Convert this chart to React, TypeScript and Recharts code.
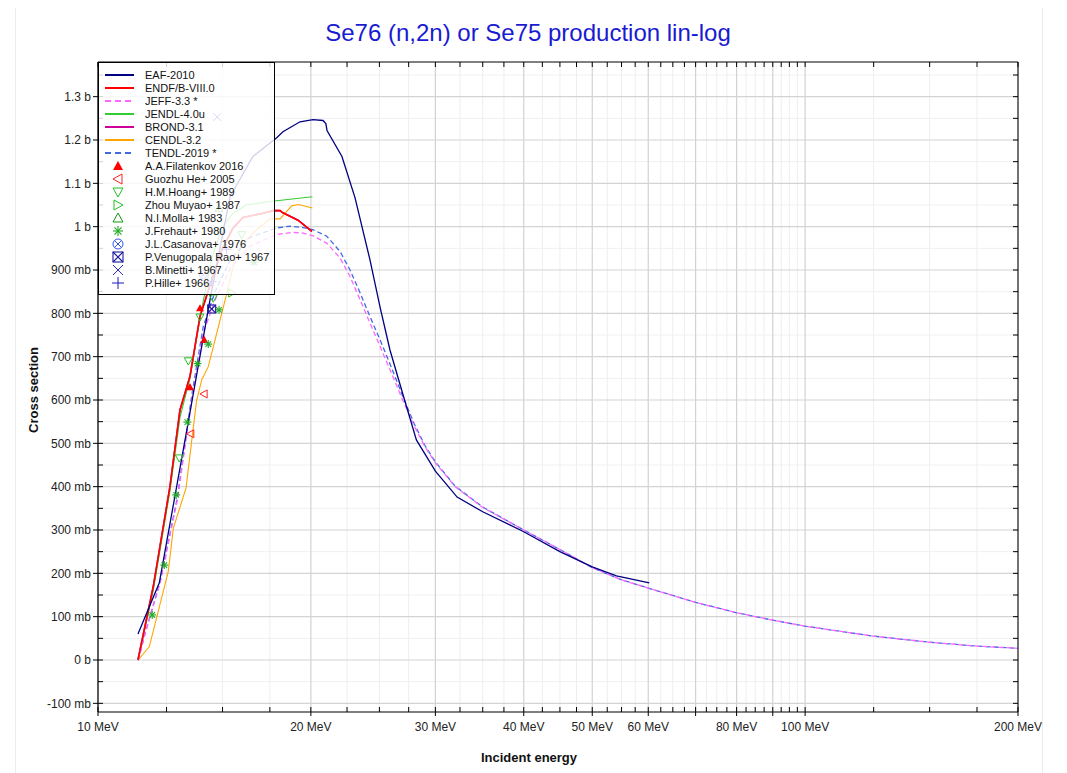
import React from 'react';
import { ComposedChart, Line, Scatter, XAxis, YAxis, ReferenceLine } from 'recharts';

// ---------- data ----------
const eafE = [11.39, 12.21, 13.42, 14.4, 15.37, 16.56, 17.91, 18.26, 19.31, 20.14, 20.81, 21.0, 21.08, 22.13, 23.09, 24.24, 25.05, 25.87, 27.0, 28.2, 30, 32.2, 35, 40, 45, 50, 54.1, 60.2];
const eafS = [0.06, 0.178, 0.55, 0.831, 1.069, 1.162, 1.206, 1.219, 1.242, 1.247, 1.245, 1.238, 1.222, 1.162, 1.067, 0.924, 0.815, 0.716, 0.612, 0.508, 0.436, 0.376, 0.342, 0.296, 0.25, 0.215, 0.194, 0.178];

const endfE = [11.39, 11.97, 12.64, 13.06, 13.49, 13.94, 14.5, 15.0, 15.5, 16.03, 17.0, 17.68, 18.09, 18.26, 19.18, 20.07];
const endfS = [0, 0.169, 0.4, 0.577, 0.654, 0.793, 0.88, 0.95, 0.995, 1.021, 1.03, 1.037, 1.037, 1.032, 1.015, 0.989];

const brondE = [11.39, 11.97, 12.64, 13.06, 13.49, 13.94, 14.5, 15.0, 15.5, 16.03, 17.0, 17.68, 18.09, 18.26, 19.18, 20.07];
const brondS = [0, 0.169, 0.4, 0.577, 0.654, 0.793, 0.88, 0.95, 0.995, 1.021, 1.03, 1.037, 1.037, 1.032, 1.015, 0.989];

const jendlE = [11.39, 11.97, 12.64, 13.06, 13.49, 13.94, 14.5, 15.0, 15.5, 16.2, 17.5, 20.1];
const jendlS = [0, 0.16, 0.39, 0.56, 0.65, 0.79, 0.93, 1.0, 1.03, 1.05, 1.058, 1.069];

const cendlE = [11.4, 11.82, 12.57, 12.78, 13.32, 13.61, 13.79, 14.02, 14.32, 14.64, 15.13, 15.54, 16.0, 16.76, 17.5, 18.09, 18.79, 19.2, 20.1];
const cendlS = [0, 0.031, 0.204, 0.304, 0.397, 0.524, 0.6, 0.647, 0.677, 0.739, 0.831, 0.91, 0.96, 0.993, 1.018, 1.018, 1.048, 1.051, 1.043];

const jeffE = [11.4, 11.65, 12.24, 12.95, 13.57, 14.09, 14.64, 15.4, 16.4, 17.89, 18.9, 19.5, 20.14, 21.06, 21.99, 22.72, 23.48, 24.24, 25.05, 26, 27, 28, 29, 30, 32, 35, 40, 45, 50, 55, 60, 70, 80, 90, 100, 125, 150, 175, 200];
const jeffS = [0, 0.06, 0.178, 0.37, 0.6, 0.755, 0.831, 0.905, 0.955, 0.982, 0.987, 0.985, 0.979, 0.962, 0.928, 0.885, 0.831, 0.778, 0.724, 0.662, 0.598, 0.54, 0.492, 0.455, 0.4, 0.352, 0.3, 0.255, 0.213, 0.185, 0.166, 0.133, 0.109, 0.092, 0.078, 0.055, 0.041, 0.032, 0.027];

const tendlE = [11.4, 11.65, 12.24, 12.95, 13.57, 14.09, 14.64, 15.4, 16.4, 17.89, 18.68, 19.5, 20.14, 21.06, 21.99, 22.72, 23.48, 24.24, 25.05, 26, 27, 28, 29, 30, 32, 35, 40, 45, 50, 55, 60, 70, 80, 90, 100, 125, 150, 175, 200];
const tendlS = [0, 0.06, 0.18, 0.375, 0.61, 0.77, 0.85, 0.925, 0.975, 0.997, 1.001, 0.998, 0.993, 0.978, 0.943, 0.9, 0.847, 0.793, 0.739, 0.675, 0.607, 0.545, 0.495, 0.457, 0.401, 0.353, 0.3, 0.255, 0.213, 0.185, 0.166, 0.133, 0.109, 0.092, 0.078, 0.055, 0.041, 0.032, 0.027];

const filatenkovE = [13.49, 13.94, 14.13];
const filatenkovS = [0.63, 0.812, 0.739];
const guozhuE = [14.12, 13.52];
const guozhuS = [0.614, 0.522];
const hoangE = [13.94, 13.42, 13.03, 14.55, 15.97];
const hoangS = [0.791, 0.69, 0.466, 0.835, 0.981];
const zhouE = [15.46];
const zhouS = [0.847];
const mollaE = [14.83];
const mollaS = [1.043];
const frehautE = [14.83, 14.32, 13.83, 13.38, 12.9, 12.41, 11.93, 16.62];
const frehautS = [0.808, 0.729, 0.684, 0.549, 0.381, 0.219, 0.104, 0.918];
const casanovaE = [14.09];
const casanovaS = [0.889];
const venugopalaE = [14.48];
const venugopalaS = [0.81];
const minettiE = [14.74];
const minettiS = [1.253];
const hilleE = [14.48, 15.2];
const hilleS = [0.873, 0.948];

// ---------- ticks ----------
const xMajor = [10, 20, 30, 40, 50, 60, 70, 80, 90, 100, 200];
const xLabeled = [10, 20, 30, 40, 50, 60, 80, 100, 200];
const xMinor = [12.5, 15, 17.5, 22.5, 25, 27.5, 32.5, 35, 37.5, 42.5, 45, 47.5, 52.5, 55, 57.5, 62.5, 65, 67.5, 72.5, 75, 77.5, 82.5, 85, 87.5, 92.5, 95, 97.5, 125, 150, 175];
const yMajor = [-0.1, 0, 0.1, 0.2, 0.3, 0.4, 0.5, 0.6, 0.7, 0.8, 0.9, 1, 1.1, 1.2, 1.3];
const yMinor = [-0.05, 0.05, 0.15, 0.25, 0.35, 0.45, 0.55, 0.65, 0.75, 0.85, 0.95, 1.05, 1.15, 1.25, 1.35];
const xAll = [...xMajor, ...xMinor].sort((a, b) => a - b);
const yAll = [...yMajor, ...yMinor].sort((a, b) => a - b);

const pts = (e: number[], s: number[]) => e.map((v, i) => ({ e: v, s: s[i] }));

const FONT = 'Arial, "Liberation Sans", sans-serif';

const fmtY = (v: number) => (v === 0 ? '0 b' : Math.abs(v) >= 1 ? `${v} b` : `${Math.round(v * 1000)} mb`);

// ---------- markers ----------
type Kind = 'triUpF' | 'triLeft' | 'triDown' | 'triRight' | 'triUp' | 'star' | 'circX' | 'boxX' | 'x' | 'plus';

const Marker = ({ kind, cx, cy, color, r = 4 }: { kind: Kind; cx: number; cy: number; color: string; r?: number }) => {
  const sw = 1;
  switch (kind) {
    case 'triUpF':
      return <polygon points={`${cx},${cy - r} ${cx - r},${cy + r * 0.8} ${cx + r},${cy + r * 0.8}`} fill={color} stroke="none" />;
    case 'triUp':
      return <polygon points={`${cx},${cy - r} ${cx - r},${cy + r * 0.8} ${cx + r},${cy + r * 0.8}`} fill="none" stroke={color} strokeWidth={sw} />;
    case 'triDown':
      return <polygon points={`${cx},${cy + r} ${cx - r},${cy - r * 0.8} ${cx + r},${cy - r * 0.8}`} fill="none" stroke={color} strokeWidth={sw} />;
    case 'triLeft':
      return <polygon points={`${cx - r},${cy} ${cx + r * 0.8},${cy - r} ${cx + r * 0.8},${cy + r}`} fill="none" stroke={color} strokeWidth={sw} />;
    case 'triRight':
      return <polygon points={`${cx + r},${cy} ${cx - r * 0.8},${cy - r} ${cx - r * 0.8},${cy + r}`} fill="none" stroke={color} strokeWidth={sw} />;
    case 'star': {
      const d = r * 0.707;
      return (
        <g stroke={color} strokeWidth={1.1}>
          <line x1={cx - r} y1={cy} x2={cx + r} y2={cy} />
          <line x1={cx} y1={cy - r} x2={cx} y2={cy + r} />
          <line x1={cx - d} y1={cy - d} x2={cx + d} y2={cy + d} />
          <line x1={cx - d} y1={cy + d} x2={cx + d} y2={cy - d} />
        </g>
      );
    }
    case 'circX': {
      const d = r * 0.707;
      return (
        <g stroke={color} strokeWidth={sw} fill="none">
          <circle cx={cx} cy={cy} r={r} />
          <line x1={cx - d} y1={cy - d} x2={cx + d} y2={cy + d} />
          <line x1={cx - d} y1={cy + d} x2={cx + d} y2={cy - d} />
        </g>
      );
    }
    case 'boxX':
      return (
        <g stroke={color} strokeWidth={1.1} fill="none">
          <rect x={cx - r} y={cy - r} width={2 * r} height={2 * r} />
          <line x1={cx - r} y1={cy - r} x2={cx + r} y2={cy + r} />
          <line x1={cx - r} y1={cy + r} x2={cx + r} y2={cy - r} />
        </g>
      );
    case 'x':
      return (
        <g stroke={color} strokeWidth={sw}>
          <line x1={cx - r} y1={cy - r} x2={cx + r} y2={cy + r} />
          <line x1={cx - r} y1={cy + r} x2={cx + r} y2={cy - r} />
        </g>
      );
    case 'plus':
    default:
      return (
        <g stroke={color} strokeWidth={sw}>
          <line x1={cx - r - 1} y1={cy} x2={cx + r + 1} y2={cy} />
          <line x1={cx} y1={cy - r - 1} x2={cx} y2={cy + r + 1} />
        </g>
      );
  }
};

// ---------- series definitions ----------
const lineSeries = [
  { name: 'EAF-2010', color: '#000080', dash: '' },
  { name: 'ENDF/B-VIII.0', color: '#ff0000', dash: '' },
  { name: 'JEFF-3.3 *', color: '#ff66ff', dash: '5 3' },
  { name: 'JENDL-4.0u', color: '#33cc33', dash: '' },
  { name: 'BROND-3.1', color: '#cc0099', dash: '' },
  { name: 'CENDL-3.2', color: '#ffa500', dash: '' },
  { name: 'TENDL-2019 *', color: '#4169e1', dash: '5 3' },
];

const pointSeries: { name: string; kind: Kind; color: string; e: number[]; s: number[] }[] = [
  { name: 'A.A.Filatenkov 2016', kind: 'triUpF', color: '#ff0000', e: filatenkovE, s: filatenkovS },
  { name: 'Guozhu He+ 2005', kind: 'triLeft', color: '#ff2020', e: guozhuE, s: guozhuS },
  { name: 'H.M.Hoang+ 1989', kind: 'triDown', color: '#22c022', e: hoangE, s: hoangS },
  { name: 'Zhou Muyao+ 1987', kind: 'triRight', color: '#22c022', e: zhouE, s: zhouS },
  { name: 'N.I.Molla+ 1983', kind: 'triUp', color: '#119911', e: mollaE, s: mollaS },
  { name: 'J.Frehaut+ 1980', kind: 'star', color: '#22aa22', e: frehautE, s: frehautS },
  { name: 'J.L.Casanova+ 1976', kind: 'circX', color: '#3355ee', e: casanovaE, s: casanovaS },
  { name: 'P.Venugopala Rao+ 1967', kind: 'boxX', color: '#1a1aa0', e: venugopalaE, s: venugopalaS },
  { name: 'B.Minetti+ 1967', kind: 'x', color: '#2a2ad0', e: minettiE, s: minettiS },
  { name: 'P.Hille+ 1966', kind: 'plus', color: '#1a1ac0', e: hilleE, s: hilleS },
];

// ---------- ticks ----------
const BottomTick = (props: any) => {
  const { x, y, payload } = props;
  const v = payload.value;
  const major = xMajor.includes(v);
  const lab = xLabeled.includes(v);
  return (
    <g>
      <line x1={x} x2={x} y1={major ? y + 4 : y} y2={y - 5} stroke="#000" strokeWidth={1} />
      {lab && (
        <text x={x} y={y + 19} textAnchor="middle" fontSize={12} fontFamily={FONT} fill="#222">
          {`${v} MeV`}
        </text>
      )}
    </g>
  );
};

const TopTick = (props: any) => {
  const { x, y } = props;
  return <line x1={x} x2={x} y1={y} y2={y + 5} stroke="#000" strokeWidth={1} />;
};

const LeftTick = (props: any) => {
  const { x, y, payload } = props;
  const v = payload.value;
  const major = yMajor.includes(v);
  return (
    <g>
      <line x1={major ? x - 5 : x} x2={x + 5} y1={y} y2={y} stroke="#000" strokeWidth={1} />
      {major && (
        <text x={x - 7} y={y} dy="0.35em" textAnchor="end" fontSize={12} fontFamily={FONT} fill="#222">
          {fmtY(v)}
        </text>
      )}
    </g>
  );
};

const RightTick = (props: any) => {
  const { x, y } = props;
  return <line x1={x - 5} x2={x} y1={y} y2={y} stroke="#000" strokeWidth={1} />;
};

const eafData = pts(eafE, eafS);
const endfData = pts(endfE, endfS);
const brondData = pts(brondE, brondS);
const jendlData = pts(jendlE, jendlS);
const cendlData = pts(cendlE, cendlS);
const jeffData = pts(jeffE, jeffS);
const tendlData = pts(tendlE, tendlS);

export default function App() {
  const W = 1067;
  const H = 773;
  return (
    <div style={{ position: 'relative', width: W, height: H, marginTop: -8, marginLeft: -8, background: '#fff' }}>
      <ComposedChart width={W} height={H} margin={{ top: 52, right: 39, bottom: 21, left: 0 }}>
        <XAxis
          xAxisId={0}
          dataKey="e"
          type="number"
          scale="log"
          domain={[10, 200]}
          allowDataOverflow
          ticks={xAll}
          interval={0}
          tick={<BottomTick />}
          tickLine={false}
          tickSize={0}
          tickMargin={0}
          height={40}
          axisLine={{ stroke: '#000', strokeWidth: 1.2 }}
        />
        <XAxis
          xAxisId="top"
          orientation="top"
          dataKey="e"
          type="number"
          scale="log"
          domain={[10, 200]}
          allowDataOverflow
          ticks={xAll}
          interval={0}
          tick={<TopTick />}
          tickLine={false}
          tickSize={0}
          tickMargin={0}
          height={10}
          axisLine={{ stroke: '#000', strokeWidth: 1 }}
        />
        <YAxis
          yAxisId={0}
          dataKey="s"
          type="number"
          domain={[-0.12, 1.38]}
          allowDataOverflow
          ticks={yAll}
          interval={0}
          tick={<LeftTick />}
          tickLine={false}
          tickSize={0}
          tickMargin={0}
          width={98}
          axisLine={{ stroke: '#000', strokeWidth: 1.2 }}
        />
        <YAxis
          yAxisId="right"
          orientation="right"
          type="number"
          domain={[-0.12, 1.38]}
          allowDataOverflow
          ticks={yAll}
          interval={0}
          tick={<RightTick />}
          tickLine={false}
          tickSize={0}
          tickMargin={0}
          width={10}
          axisLine={{ stroke: '#000', strokeWidth: 1 }}
        />

        {xMinor.map((v) => (
          <ReferenceLine key={`xm${v}`} x={v} stroke="#eeeeee" strokeWidth={1} />
        ))}
        {yMinor.map((v) => (
          <ReferenceLine key={`ym${v}`} y={v} stroke="#f0f0f0" strokeWidth={1} />
        ))}
        {xMajor.map((v) => (
          <ReferenceLine key={`xM${v}`} x={v} stroke="#d2d2d2" strokeWidth={1.2} />
        ))}
        {yMajor.map((v) => (
          <ReferenceLine key={`yM${v}`} y={v} stroke="#d4d4d4" strokeWidth={1.2} />
        ))}

        <Line data={brondData} dataKey="s" type="linear" stroke="#cc0099" strokeWidth={1.6} dot={false} isAnimationActive={false} />
        <Line data={cendlData} dataKey="s" type="linear" stroke="#ffa500" strokeWidth={1.1} dot={false} isAnimationActive={false} />
        <Line data={jendlData} dataKey="s" type="linear" stroke="#33cc33" strokeWidth={1.1} dot={false} isAnimationActive={false} />
        <Line data={tendlData} dataKey="s" type="linear" stroke="#4169e1" strokeWidth={1.3} strokeDasharray="5 3" dot={false} isAnimationActive={false} />
        <Line data={jeffData} dataKey="s" type="linear" stroke="#ff66ff" strokeWidth={1.3} strokeDasharray="5 3" dot={false} isAnimationActive={false} />
        <Line data={endfData} dataKey="s" type="linear" stroke="#ff0000" strokeWidth={1.6} dot={false} isAnimationActive={false} />
        <Line data={eafData} dataKey="s" type="linear" stroke="#000080" strokeWidth={1.3} dot={false} isAnimationActive={false} />

        {pointSeries.map((p) => (
          <Scatter
            key={p.name}
            data={pts(p.e, p.s)}
            dataKey="s"
            isAnimationActive={false}
            shape={(sp: any) => <Marker kind={p.kind} cx={sp.cx} cy={sp.cy} color={p.color} />}
          />
        ))}
      </ComposedChart>

      <svg width={W} height={H} style={{ position: 'absolute', left: 0, top: 0, pointerEvents: 'none' }}>
        <line x1={15.5} y1={4} x2={15.5} y2={H} stroke="#ececec" />
        <line x1={1042.5} y1={4} x2={1042.5} y2={H} stroke="#ececec" />
        <line x1={15.5} y1={4.5} x2={1042.5} y2={4.5} stroke="#ececec" />
        <text x={528} y={41} textAnchor="middle" fontSize={24} fontFamily={FONT} fill="#1a1ad2">
          Se76 (n,2n) or Se75 production lin-log
        </text>
        <text
          x={0}
          y={0}
          transform="translate(38,390) rotate(-90)"
          textAnchor="middle"
          fontSize={13}
          fontWeight="bold"
          fontFamily={FONT}
          fill="#111"
        >
          Cross section
        </text>
        <text x={529} y={762} textAnchor="middle" fontSize={13} fontWeight="bold" fontFamily={FONT} fill="#111">
          Incident energy
        </text>

        {/* legend */}
        <rect x={98.5} y={62.5} width={176} height={232} fill="#fff" fillOpacity={0.82} stroke="#000" strokeWidth={1} />
        {lineSeries.map((l, i) => {
          const y = 75 + 13 * i;
          return (
            <g key={l.name}>
              <line x1={105} x2={134} y1={y} y2={y} stroke={l.color} strokeWidth={2} strokeDasharray={l.dash ? '6 4' : undefined} />
              <text x={145} y={y} dy="0.35em" fontSize={11} fontFamily={FONT} fill="#111">
                {l.name}
              </text>
            </g>
          );
        })}
        {pointSeries.map((p, i) => {
          const y = 75 + 13 * (i + 7);
          return (
            <g key={p.name}>
              <Marker kind={p.kind} cx={118} cy={y} color={p.color} r={5} />
              <text x={145} y={y} dy="0.35em" fontSize={11} fontFamily={FONT} fill="#111">
                {p.name}
              </text>
            </g>
          );
        })}
      </svg>
    </div>
  );
}
